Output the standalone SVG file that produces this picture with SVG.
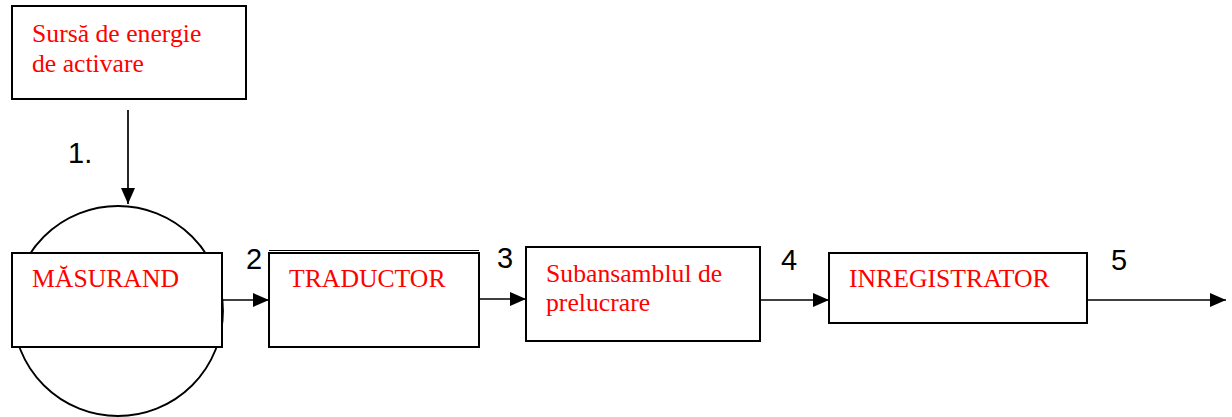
<svg xmlns="http://www.w3.org/2000/svg" width="1232" height="417" viewBox="0 0 1232 417">
<style>
.box{fill:#fff;stroke:#000;stroke-width:2}
.lbl{font-family:"Liberation Serif","Times New Roman",serif;font-size:25.7px;fill:#ff0000}
.num{font-family:"Liberation Sans",Arial,sans-serif;font-size:29px;fill:#000}
.con{stroke:#000;stroke-width:1.7;fill:none}
</style>
<defs>
<marker id="ah" markerWidth="16" markerHeight="14" refX="16" refY="7" orient="auto" markerUnits="userSpaceOnUse">
<path d="M0,0 L16,7 L0,14 Z" fill="#000"/>
</marker>
</defs>
<rect width="1232" height="417" fill="#fff"/>
<g id="sursa">
<rect class="box" x="12" y="6" width="234" height="93"/>
<text class="lbl" x="32" y="42">Sursă de energie</text>
<text class="lbl" x="32" y="72">de activare</text>
</g>
<g id="masurand">
<circle cx="118" cy="311" r="105" fill="#fff" stroke="#000" stroke-width="1.8"/>
<rect class="box" x="12" y="253" width="210" height="94"/>
<text class="lbl" x="32" y="287">MĂSURAND</text>
</g>
<g id="traductor">
<rect class="box" x="269" y="253" width="210" height="94"/>
<line x1="269" y1="250.5" x2="479" y2="250.5" stroke="#000" stroke-width="1.2"/>
<text class="lbl" x="289" y="287">TRADUCTOR</text>
</g>
<g id="subansamblu">
<rect class="box" x="526" y="247" width="234" height="94"/>
<text class="lbl" x="546" y="282">Subansamblul de</text>
<text class="lbl" x="546" y="311">prelucrare</text>
</g>
<g id="inregistrator">
<rect class="box" x="829" y="253" width="258" height="70"/>
<text class="lbl" x="849" y="287">INREGISTRATOR</text>
</g>
<g id="connectors">
<line class="con" x1="128" y1="110" x2="128" y2="204" marker-end="url(#ah)"/>
<line class="con" x1="222" y1="300" x2="269" y2="300" marker-end="url(#ah)"/>
<line class="con" x1="479" y1="299" x2="526" y2="299" marker-end="url(#ah)"/>
<line class="con" x1="760" y1="300" x2="829" y2="300" marker-end="url(#ah)"/>
<line class="con" x1="1087" y1="300" x2="1226" y2="300" marker-end="url(#ah)"/>
<text class="num" x="68" y="163">1.</text>
<text class="num" x="246" y="269">2</text>
<text class="num" x="497" y="268">3</text>
<text class="num" x="781" y="270">4</text>
<text class="num" x="1111" y="270">5</text>
</g>
</svg>
